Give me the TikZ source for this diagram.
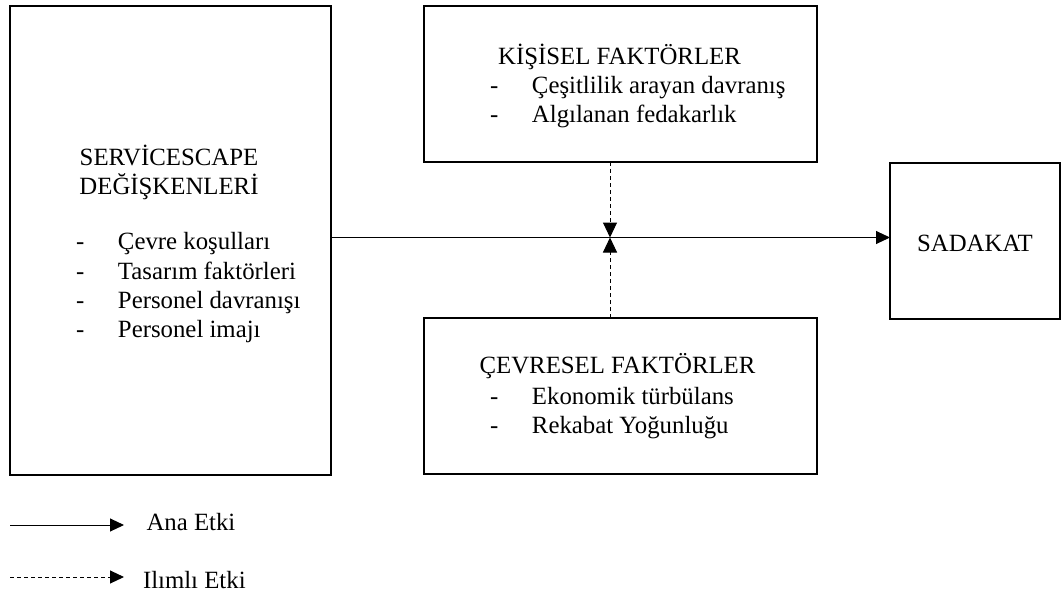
\documentclass[tikz,border=0pt]{standalone}
\usepackage{fontspec}
\setmainfont{Liberation Serif}
\usetikzlibrary{arrows.meta}
\begin{document}
\begin{tikzpicture}[x=1pt,y=-1pt,
  box/.style={draw,line width=1.6pt,inner sep=0pt,outer sep=0pt},
  txt/.style={inner sep=0pt,outer sep=0pt,font=\fontsize{24.8}{28.5}\selectfont},
  head/.style={txt,anchor=base},
  item/.style={txt,anchor=base west},
  mainfx/.style={line width=1pt,-{Triangle[length=14pt,width=13pt]}},
  modfx/.style={line width=1pt,dash pattern=on 4pt off 3pt,-{Triangle[length=15pt,width=14pt]}},
  legmod/.style={line width=1pt,dash pattern=on 4pt off 3pt,-{Triangle[length=14pt,width=13pt]}}]
\useasboundingbox (0,0) rectangle (1062,594);
\newcommand{\bullitem}[1]{\makebox[42pt][l]{-}#1}

% boxes
\node[box,minimum width=321pt,minimum height=469pt] (svc) at (170.5,240.5) {};
\node[box,minimum width=393pt,minimum height=156pt] (kis) at (620.5,84) {};
\node[box,minimum width=393pt,minimum height=156pt] (cev) at (620.5,396) {};
\node[box,minimum width=170pt,minimum height=156pt] (sad) at (975,241) {};

% servicescape variables
\node[head] (svct1) at (169,165) {SERVİCESCAPE};
\node[head] (svct2) at (169,194) {DEĞİŞKENLERİ};
\node[item] (svci1) at (76,249.5) {\bullitem{Çevre koşulları}};
\node[item] (svci2) at (76,279) {\bullitem{Tasarım faktörleri}};
\node[item] (svci3) at (76,308) {\bullitem{Personel davranışı}};
\node[item] (svci4) at (76,337.5) {\bullitem{Personel imajı}};

% personal factors
\node[head] (kist) at (619.5,65) {KİŞİSEL FAKTÖRLER};
\node[item] (kisi1) at (490,93.5) {\bullitem{Çeşitlilik arayan davranış}};
\node[item] (kisi2) at (490,122) {\bullitem{Algılanan fedakarlık}};

% environmental factors
\node[head] (cevt) at (617.5,373.5) {ÇEVRESEL FAKTÖRLER};
\node[item] (cevi1) at (490,404.5) {\bullitem{Ekonomik türbülans}};
\node[item] (cevi2) at (490,433) {\bullitem{Rekabat Yoğunluğu}};

% loyalty
\node[head] (sadt) at (975,251) {SADAKAT};

% effects
\coordinate (mid) at (610,237.5);
\draw[mainfx] (svc.east |- mid) -- (sad.west |- mid);
\draw[modfx] (kis.south -| mid) -- (mid);
\draw[modfx] (cev.north -| mid) -- (mid);

% legend
\coordinate (l1a) at (10,525);
\coordinate (l1b) at (124,525);
\coordinate (l2a) at (10,577);
\coordinate (l2b) at (124,577);
\draw[mainfx] (l1a) -- (l1b);
\draw[legmod] (l2a) -- (l2b);
\node[item] (leg1) at (146.5,530.5) {Ana Etki};
\node[item] (leg2) at (143,588) {Ilımlı Etki};
\end{tikzpicture}
\end{document}
